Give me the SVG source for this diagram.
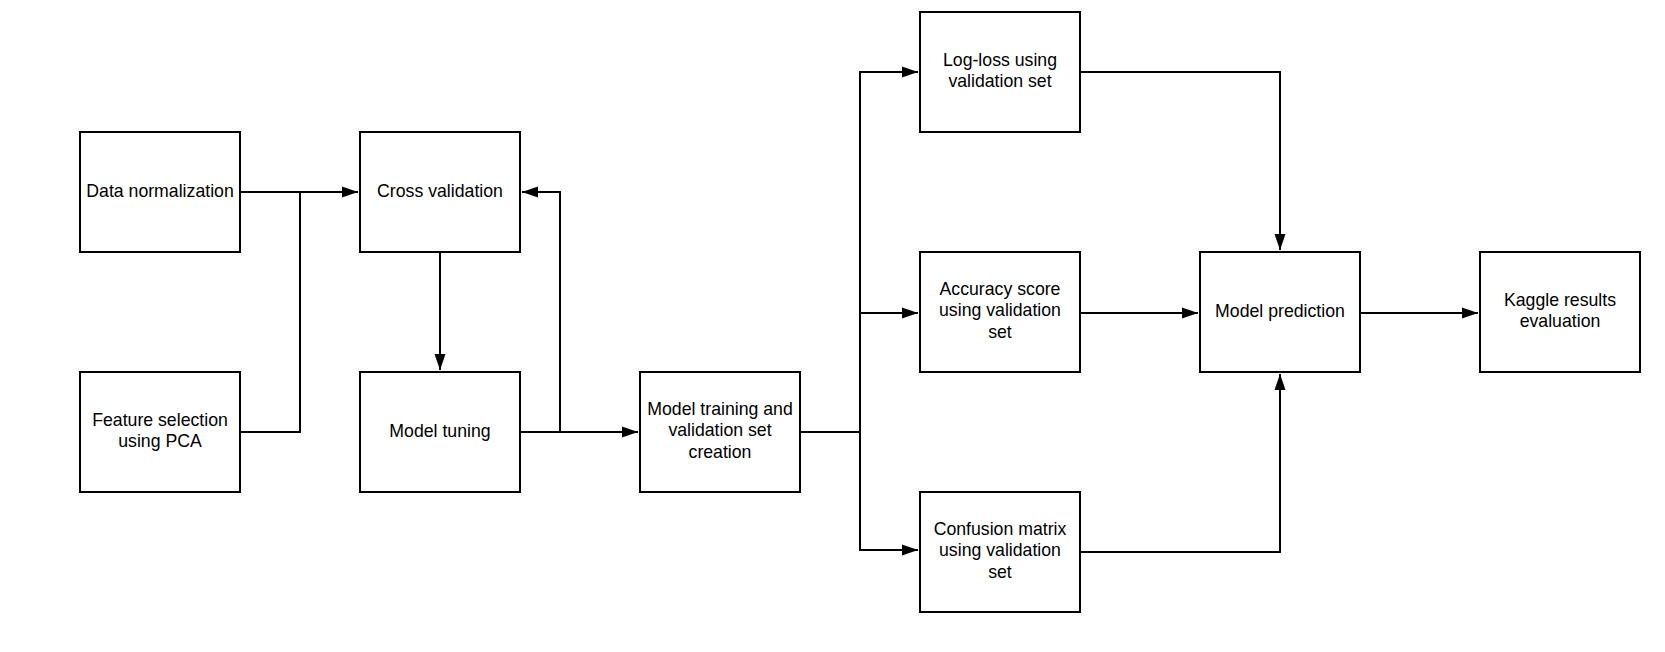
<svg xmlns="http://www.w3.org/2000/svg" width="1665" height="652" viewBox="0 0 1665 652">
<style>
.box{fill:#fff;stroke:#000;stroke-width:2}
.t{font-family:"Liberation Sans",Arial,sans-serif;font-size:17.7px;fill:#000;text-anchor:middle}
.c{fill:none;stroke:#000;stroke-width:2}
</style>
<defs>
<marker id="arr" markerUnits="userSpaceOnUse" markerWidth="18" markerHeight="14" viewBox="0 0 18 14" refX="16" refY="7" orient="auto">
<path d="M0,1.5 L16,7 L0,12.5 Z" fill="#000"/>
</marker>
</defs>
<rect width="1665" height="652" fill="#fff"/>
<g id="connectors">
<path class="c" d="M240,192 H358" marker-end="url(#arr)"/>
<path class="c" d="M240,432 H300 V192"/>
<path class="c" d="M440,252 V370" marker-end="url(#arr)"/>
<path class="c" d="M520,432 H638" marker-end="url(#arr)"/>
<path class="c" d="M560,432 V192 H522" marker-end="url(#arr)"/>
<path class="c" d="M800,432 H860 V72 H918" marker-end="url(#arr)"/>
<path class="c" d="M860,313 H918" marker-end="url(#arr)"/>
<path class="c" d="M860,432 V550 H918" marker-end="url(#arr)"/>
<path class="c" d="M1080,72 H1280 V250" marker-end="url(#arr)"/>
<path class="c" d="M1080,313 H1198" marker-end="url(#arr)"/>
<path class="c" d="M1080,552 H1280 V374" marker-end="url(#arr)"/>
<path class="c" d="M1360,313 H1478" marker-end="url(#arr)"/>
</g>
<g id="data-normalization"><rect class="box" x="80" y="132" width="160" height="120"/><text class="t" x="160" y="197">Data normalization</text></g>
<g id="feature-selection"><rect class="box" x="80" y="372" width="160" height="120"/><text class="t" x="160" y="426">Feature selection</text><text class="t" x="160" y="447">using PCA</text></g>
<g id="cross-validation"><rect class="box" x="360" y="132" width="160" height="120"/><text class="t" x="440" y="197">Cross validation</text></g>
<g id="model-tuning"><rect class="box" x="360" y="372" width="160" height="120"/><text class="t" x="440" y="437">Model tuning</text></g>
<g id="model-training"><rect class="box" x="640" y="372" width="160" height="120"/><text class="t" x="720" y="415">Model training and</text><text class="t" x="720" y="436">validation set</text><text class="t" x="720" y="458">creation</text></g>
<g id="log-loss"><rect class="box" x="920" y="12" width="160" height="120"/><text class="t" x="1000" y="66">Log-loss using</text><text class="t" x="1000" y="87">validation set</text></g>
<g id="accuracy"><rect class="box" x="920" y="252" width="160" height="120"/><text class="t" x="1000" y="295">Accuracy score</text><text class="t" x="1000" y="316">using validation</text><text class="t" x="1000" y="338">set</text></g>
<g id="confusion"><rect class="box" x="920" y="492" width="160" height="120"/><text class="t" x="1000" y="535">Confusion matrix</text><text class="t" x="1000" y="556">using validation</text><text class="t" x="1000" y="578">set</text></g>
<g id="model-prediction"><rect class="box" x="1200" y="252" width="160" height="120"/><text class="t" x="1280" y="317">Model prediction</text></g>
<g id="kaggle"><rect class="box" x="1480" y="252" width="160" height="120"/><text class="t" x="1560" y="306">Kaggle results</text><text class="t" x="1560" y="327">evaluation</text></g>
</svg>
